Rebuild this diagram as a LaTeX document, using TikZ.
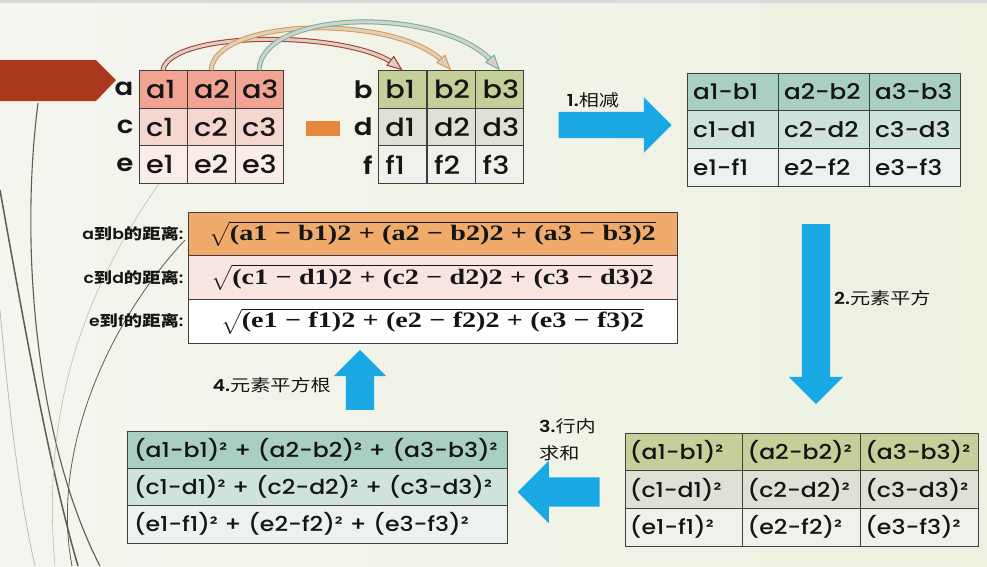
\documentclass[tikz,border=0pt]{standalone}
\usepackage[no-math]{fontspec}
\usepackage{amsmath}
\usetikzlibrary{shapes.geometric,shapes.arrows,positioning}
\setmainfont{Poppins}[UprightFont=* Medium, BoldFont=* SemiBold, FakeStretch=1.15]
\newfontfamily\cjk{Noto Sans CJK SC}[FakeStretch=1.22]
\newfontfamily\formfont{Liberation Serif}[FakeStretch=1.28]
\newcommand{\zh}[1]{{\cjk #1}}

\definecolor{bgLeft}{HTML}{F4F5EF}
\definecolor{bgRight}{HTML}{EDF1E0}
\definecolor{banner}{HTML}{A9381C}
\definecolor{curveDark}{HTML}{5F5C48}
\definecolor{curveLight}{HTML}{BDBCAC}
\definecolor{gridline}{HTML}{3F3F3F}
\definecolor{ink}{HTML}{151515}
\definecolor{salmonA}{HTML}{F2A493}
\definecolor{salmonB}{HTML}{F5D7D0}
\definecolor{salmonC}{HTML}{F9EDEA}
\definecolor{oliveA}{HTML}{C5CF9A}
\definecolor{oliveB}{HTML}{DDE1D6}
\definecolor{oliveC}{HTML}{EFF1EC}
\definecolor{tealA}{HTML}{A8CFBF}
\definecolor{tealB}{HTML}{D0E3DA}
\definecolor{tealC}{HTML}{EEF2EF}
\definecolor{orangeA}{HTML}{F0AA6B}
\definecolor{pinkB}{HTML}{F8E5E2}
\definecolor{minusOrange}{HTML}{E4883E}
\definecolor{arrowBlue}{HTML}{19A8E4}
\definecolor{arcRed}{HTML}{B23421}
\definecolor{arcOrange}{HTML}{E5973A}
\definecolor{arcTeal}{HTML}{73AE9F}
\definecolor{arcFill}{HTML}{D3D3CB}

\tikzstyle{cell}=[draw=gridline, line width=0.8pt, inner xsep=7pt, inner ysep=3pt, align=left, text=ink,
  execute at begin node={\exhyphenpenalty=10000 }]
\tikzstyle{cellA}=[cell, minimum height=37.7pt, text width=34pt, font=\fontsize{25}{25}\selectfont]
\tikzstyle{cellC}=[cell, inner xsep=6pt, minimum height=37.7pt, text width=79pt, font=\fontsize{21.5}{21.5}\selectfont]
\tikzstyle{cellD}=[cell, inner xsep=5pt, minimum height=37.7pt, text width=107.7pt, font=\fontsize{20.5}{20.5}\selectfont]
\tikzstyle{rowE}=[cell, minimum height=37.3pt, text width=366pt, font=\fontsize{20.5}{20.5}\selectfont]
\tikzstyle{rowF}=[cell, minimum height=43.7pt, text width=475pt, align=center, font=\fontsize{22}{22}\selectfont]
\tikzstyle{rowlabel}=[inner sep=2pt, text=ink, font=\fontsize{24}{24}\selectfont\bfseries]
\tikzstyle{steplabel}=[inner sep=0pt, text=ink, font=\fontsize{16.5}{27}\selectfont]
\tikzstyle{distlabel}=[inner sep=2pt, text=ink, font=\fontsize{15}{16}\selectfont\bfseries]
\tikzstyle{blockarrow}=[single arrow, fill=arrowBlue, inner xsep=0pt]
\tikzstyle{band}=[double=arcFill, double distance=3pt, line width=1pt, shorten >=9pt]
\tikzstyle{bandhead}=[isosceles triangle, isosceles triangle apex angle=60, isosceles triangle stretches,
  minimum width=11pt, minimum height=14pt, inner sep=0pt, fill=arcFill, line width=1pt,
  sloped, pos=1, anchor=apex]

\begin{document}
\begin{tikzpicture}[x=1pt,y=-1pt]
  \useasboundingbox (0,0) rectangle (987,566);
  % background
  \shade[left color=bgLeft, right color=bgRight] (0,0) rectangle (987,566);
  \fill[black!15] (0,0) rectangle (987,3);
  \draw[curveDark, line width=1.5pt] (0,190) .. controls (25,330) and (50,470) .. (78,566);
  \draw[curveDark, line width=1.1pt] (38,103) .. controls (18,260) and (40,450) .. (100,566);
  \draw[curveLight, line width=0.6pt] (165,175) .. controls (90,280) and (40,400) .. (55,566);
  \draw[curveDark, line width=0.8pt] (185,240) .. controls (110,320) and (50,450) .. (72,566);
  \draw[curveLight, line width=0.8pt] (0,310) .. controls (10,420) and (20,500) .. (35,566);
  \fill[banner] (0,60) -- (96,60) -- (116,80) -- (96,101) -- (0,101) -- cycle;

  % first matrix
  \node[cellA, fill=salmonA] (a1) at (163,89.3) {a1};
  \node[cellA, fill=salmonA] (a2) at (211,89.3) {a2};
  \node[cellA, fill=salmonA] (a3) at (259,89.3) {a3};
  \node[cellA, fill=salmonB] (c1) at (163,127) {c1};
  \node[cellA, fill=salmonB] (c2) at (211,127) {c2};
  \node[cellA, fill=salmonB] (c3) at (259,127) {c3};
  \node[cellA, fill=salmonC] (e1) at (163,164.7) {e1};
  \node[cellA, fill=salmonC] (e2) at (211,164.7) {e2};
  \node[cellA, fill=salmonC] (e3) at (259,164.7) {e3};
  \node[rowlabel, left=3pt of a1] (la) {a};
  \node[rowlabel, left=3pt of c1] (lc) {c};
  \node[rowlabel, left=3pt of e1] (le) {e};
  % minus sign
  \node[fill=minusOrange, minimum width=34pt, minimum height=15pt, inner sep=0pt] (minus) at (323,128) {};
  % second matrix
  \node[cellA, fill=oliveA] (b1) at (402.3,89.3) {b1};
  \node[cellA, fill=oliveA] (b2) at (451,89.3) {b2};
  \node[cellA, fill=oliveA] (b3) at (499.7,89.3) {b3};
  \node[cellA, fill=oliveB] (d1) at (402.3,127) {d1};
  \node[cellA, fill=oliveB] (d2) at (451,127) {d2};
  \node[cellA, fill=oliveB] (d3) at (499.7,127) {d3};
  \node[cellA, fill=oliveC] (f1) at (402.3,164.7) {f1};
  \node[cellA, fill=oliveC] (f2) at (451,164.7) {f2};
  \node[cellA, fill=oliveC] (f3) at (499.7,164.7) {f3};
  \node[rowlabel, left=3pt of b1] (lb) {b};
  \node[rowlabel, left=3pt of d1] (ld) {d};
  \node[rowlabel, left=3pt of f1] (lf) {f};

  % pairing arcs
  \coordinate (rc1) at (170,30);  \coordinate (rc2) at (350,30);
  \coordinate (oc1) at (216,16);  \coordinate (oc2) at (400,14);
  \coordinate (tc1) at (262,8);   \coordinate (tc2) at (445,6);
  \draw[band, draw=arcRed] (a1.north) .. controls (rc1) and (rc2) .. (b1.north);
  \path (a1.north) .. controls (rc1) and (rc2) .. (b1.north) node[bandhead, draw=arcRed] (headb1) {};
  \draw[band, draw=arcOrange] (a2.north) .. controls (oc1) and (oc2) .. (b2.north);
  \path (a2.north) .. controls (oc1) and (oc2) .. (b2.north) node[bandhead, draw=arcOrange] (headb2) {};
  \draw[band, draw=arcTeal] (a3.north) .. controls (tc1) and (tc2) .. (b3.north);
  \path (a3.north) .. controls (tc1) and (tc2) .. (b3.north) node[bandhead, draw=arcTeal] (headb3) {};

  % step 1
  \node[blockarrow, minimum height=113pt, inner ysep=13pt, single arrow head extend=14.5pt] (subarrow) at (608.5,125) {};
  \node[steplabel] (sublabel) at (593,100) {\textbf{1.}\zh{相减}};
  \node[cellC, fill=tealA] (a1b1) at (732.5,91.8) {a1-b1};
  \node[cellC, fill=tealA] (a2b2) at (823.5,91.8) {a2-b2};
  \node[cellC, fill=tealA] (a3b3) at (914.5,91.8) {a3-b3};
  \node[cellC, fill=tealB] (c1d1) at (732.5,129.5) {c1-d1};
  \node[cellC, fill=tealB] (c2d2) at (823.5,129.5) {c2-d2};
  \node[cellC, fill=tealB] (c3d3) at (914.5,129.5) {c3-d3};
  \node[cellC, fill=tealC] (e1f1) at (732.5,167.2) {e1-f1};
  \node[cellC, fill=tealC] (e2f2) at (823.5,167.2) {e2-f2};
  \node[cellC, fill=tealC] (e3f3) at (914.5,167.2) {e3-f3};

  % step 2
  \node[blockarrow, rotate=-90, minimum height=180pt, inner ysep=14pt, single arrow head extend=13pt] (sqarrow) at (816,307) {};
  \node[steplabel, anchor=west] (sqlabel) at (834,298) {\textbf{2.}\zh{元素平方}};
  \node[cellD, fill=oliveA] (a1b1sq) at (683.8,451.8) {(a1-b1)²};
  \node[cellD, fill=oliveA] (a2b2sq) at (801.5,451.8) {(a2-b2)²};
  \node[cellD, fill=oliveA] (a3b3sq) at (919.2,451.8) {(a3-b3)²};
  \node[cellD, fill=oliveB] (c1d1sq) at (683.8,489.5) {(c1-d1)²};
  \node[cellD, fill=oliveB] (c2d2sq) at (801.5,489.5) {(c2-d2)²};
  \node[cellD, fill=oliveB] (c3d3sq) at (919.2,489.5) {(c3-d3)²};
  \node[cellD, fill=oliveC] (e1f1sq) at (683.8,527.2) {(e1-f1)²};
  \node[cellD, fill=oliveC] (e2f2sq) at (801.5,527.2) {(e2-f2)²};
  \node[cellD, fill=oliveC] (e3f3sq) at (919.2,527.2) {(e3-f3)²};

  % step 3
  \node[blockarrow, rotate=180, minimum height=82pt, inner ysep=14.5pt, single arrow head extend=16.5pt] (sumarrow) at (566,492) {};
  \node[steplabel, anchor=north west, align=left] (sumlabel) at (539,418) {\textbf{3.}\zh{行内}\\\zh{求和}};
  \node[rowE, fill=tealA] (sumab) at (317,449.7) {(a1-b1)² + (a2-b2)² + (a3-b3)²};
  \node[rowE, fill=tealB] (sumcd) at (317,487) {(c1-d1)² + (c2-d2)² + (c3-d3)²};
  \node[rowE, fill=tealC] (sumef) at (317,524.3) {(e1-f1)² + (e2-f2)² + (e3-f3)²};

  % step 4
  \node[blockarrow, rotate=90, minimum height=60pt, inner ysep=14pt, single arrow head extend=12pt] (rootarrow) at (360,387) {};
  \node[steplabel, anchor=east] (rootlabel) at (331,385) {\textbf{4.}\zh{元素平方根}};
  \node[rowF, fill=orangeA] (distab) at (432.5,233.8) {$\sqrt{\text{\formfont\bfseries (a1 − b1)2 + (a2 − b2)2 + (a3 − b3)2}}$};
  \node[rowF, fill=pinkB] (distcd) at (432.5,277.5) {$\sqrt{\text{\formfont\bfseries (c1 − d1)2 + (c2 − d2)2 + (c3 − d3)2}}$};
  \node[rowF, fill=white] (distef) at (432.5,321.2) {$\sqrt{\text{\formfont\bfseries (e1 − f1)2 + (e2 − f2)2 + (e3 − f3)2}}$};
  \node[distlabel, left=2pt of distab] (labab) {a\zh{到}b\zh{的距离}:};
  \node[distlabel, left=2pt of distcd] (labcd) {c\zh{到}d\zh{的距离}:};
  \node[distlabel, left=2pt of distef] (labef) {e\zh{到}f\zh{的距离}:};
\end{tikzpicture}
\end{document}
